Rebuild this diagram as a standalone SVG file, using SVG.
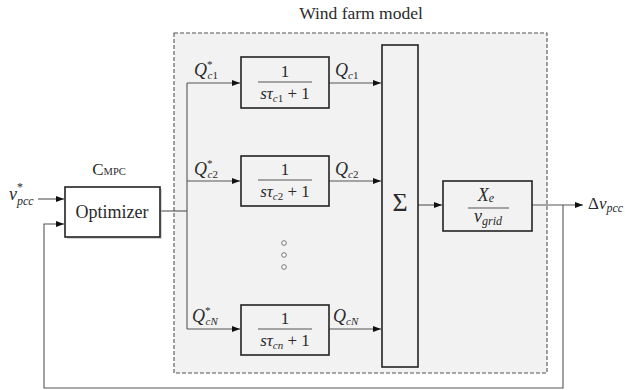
<svg xmlns="http://www.w3.org/2000/svg" width="625" height="390" viewBox="0 0 625 390" font-family="Liberation Serif, serif">
<style>
text{font-family:'Liberation Serif',serif;fill:#2a2a2a}
.m{font-style:italic}
.box{fill:none;stroke:#222;stroke-width:1.6}
.wbox{fill:#ffffff;stroke:#222;stroke-width:1.6}
.ln{fill:none;stroke:#555;stroke-width:1.1}
.fr{stroke:#555;stroke-width:1}
.dot{fill:#fff;stroke:#666;stroke-width:0.9}
</style>
<defs>
<marker id="ah" markerWidth="8" markerHeight="6" refX="8" refY="3" orient="auto" markerUnits="userSpaceOnUse">
<path d="M0,0 L8,3 L0,6 Z" fill="#111"/>
</marker>
</defs>

<g id="windfarm">
<rect x="174" y="33" width="373" height="340" fill="#f2f2f2" stroke="#555" stroke-width="1.1" stroke-dasharray="4,2"/>
<text x="361" y="19" font-size="17.5" text-anchor="middle">Wind farm model</text>
</g>

<g id="connectors">
<path class="ln" d="M38,199 H64" marker-end="url(#ah)"/>
<path class="ln" d="M160,211 H187"/>
<path class="ln" d="M187,83 V329"/>
<path class="ln" d="M187,83 H240" marker-end="url(#ah)"/>
<path class="ln" d="M187,181 H240" marker-end="url(#ah)"/>
<path class="ln" d="M187,329 H240" marker-end="url(#ah)"/>
<path class="ln" d="M329,83 H381" marker-end="url(#ah)"/>
<path class="ln" d="M329,181 H381" marker-end="url(#ah)"/>
<path class="ln" d="M329,329 H381" marker-end="url(#ah)"/>
<path class="ln" d="M418,205 H442" marker-end="url(#ah)"/>
<path class="ln" d="M532,205 H583" marker-end="url(#ah)"/>
<path class="ln" d="M563,205 V388 H44 V224 H64" marker-end="url(#ah)"/>
</g>

<g id="optimizer">
<rect x="67" y="189" width="95" height="50" fill="#bbb" opacity="0.6"/>
<rect class="wbox" x="65" y="187" width="95" height="50"/>
<text x="112" y="218" font-size="18" text-anchor="middle">Optimizer</text>
<text x="109" y="175" font-size="17" text-anchor="middle">C<tspan font-size="10.5">MPC</tspan></text>
</g>

<g id="input-label">
<text x="9" y="200" font-size="18" class="m">v<tspan font-size="12" dy="-9" font-style="normal">*</tspan><tspan font-size="12" dx="-6" dy="14">pcc</tspan></text>
</g>

<g id="block1">
<rect class="box" x="241" y="57" width="88" height="51"/>
<text x="285" y="77" font-size="17" text-anchor="middle">1</text>
<line class="fr" x1="258" y1="82" x2="312" y2="82"/>
<text x="285" y="99" font-size="17" text-anchor="middle"><tspan class="m">sτ</tspan><tspan class="m" font-size="11" dy="3">c</tspan><tspan font-size="11">1</tspan><tspan dy="-3"> + 1</tspan></text>
</g>

<g id="block2">
<rect class="box" x="241" y="156" width="88" height="50"/>
<text x="285" y="175" font-size="17" text-anchor="middle">1</text>
<line class="fr" x1="258" y1="180" x2="312" y2="180"/>
<text x="285" y="197" font-size="17" text-anchor="middle"><tspan class="m">sτ</tspan><tspan class="m" font-size="11" dy="3">c</tspan><tspan font-size="11">2</tspan><tspan dy="-3"> + 1</tspan></text>
</g>

<g id="blockN">
<rect class="box" x="241" y="305" width="88" height="50"/>
<text x="285" y="324" font-size="17" text-anchor="middle">1</text>
<line class="fr" x1="258" y1="329" x2="312" y2="329"/>
<text x="285" y="346" font-size="17" text-anchor="middle"><tspan class="m">sτ</tspan><tspan class="m" font-size="11" dy="3">cn</tspan><tspan dy="-3"> + 1</tspan></text>
</g>

<g id="dots">
<circle class="dot" cx="284" cy="243" r="2.3"/>
<circle class="dot" cx="284" cy="255" r="2.3"/>
<circle class="dot" cx="284" cy="267" r="2.3"/>
</g>

<g id="labels-in">
<text x="194" y="76" font-size="18" class="m">Q<tspan font-size="11" dy="-8" font-style="normal">*</tspan><tspan font-size="11" dx="-5" dy="11">c</tspan><tspan font-size="11" font-style="normal">1</tspan></text>
<text x="194" y="175" font-size="18" class="m">Q<tspan font-size="11" dy="-8" font-style="normal">*</tspan><tspan font-size="11" dx="-5" dy="11">c</tspan><tspan font-size="11" font-style="normal">2</tspan></text>
<text x="192" y="322" font-size="18" class="m">Q<tspan font-size="11" dy="-8" font-style="normal">*</tspan><tspan font-size="11" dx="-5" dy="11">cN</tspan></text>
</g>

<g id="labels-out">
<text x="335" y="76" font-size="18" class="m">Q<tspan font-size="11" dy="3">c</tspan><tspan font-size="11" font-style="normal">1</tspan></text>
<text x="335" y="175" font-size="18" class="m">Q<tspan font-size="11" dy="3">c</tspan><tspan font-size="11" font-style="normal">2</tspan></text>
<text x="333" y="322" font-size="18" class="m">Q<tspan font-size="11" dy="3">cN</tspan></text>
</g>

<g id="sum">
<rect class="box" x="382" y="45" width="36" height="322"/>
<text x="400" y="211" font-size="26" text-anchor="middle">Σ</text>
</g>

<g id="gain">
<rect class="box" x="443" y="181" width="89" height="50"/>
<text x="486" y="201" font-size="18" text-anchor="middle" class="m">X<tspan font-size="12" dy="1">e</tspan></text>
<line class="fr" x1="468" y1="208" x2="509" y2="208"/>
<text x="488" y="222" font-size="18" text-anchor="middle" class="m">v<tspan font-size="12" dy="3">grid</tspan></text>
</g>

<g id="output-label">
<text x="588" y="209" font-size="17">Δ<tspan class="m">v</tspan><tspan class="m" font-size="12" dy="3">pcc</tspan></text>
</g>
</svg>
